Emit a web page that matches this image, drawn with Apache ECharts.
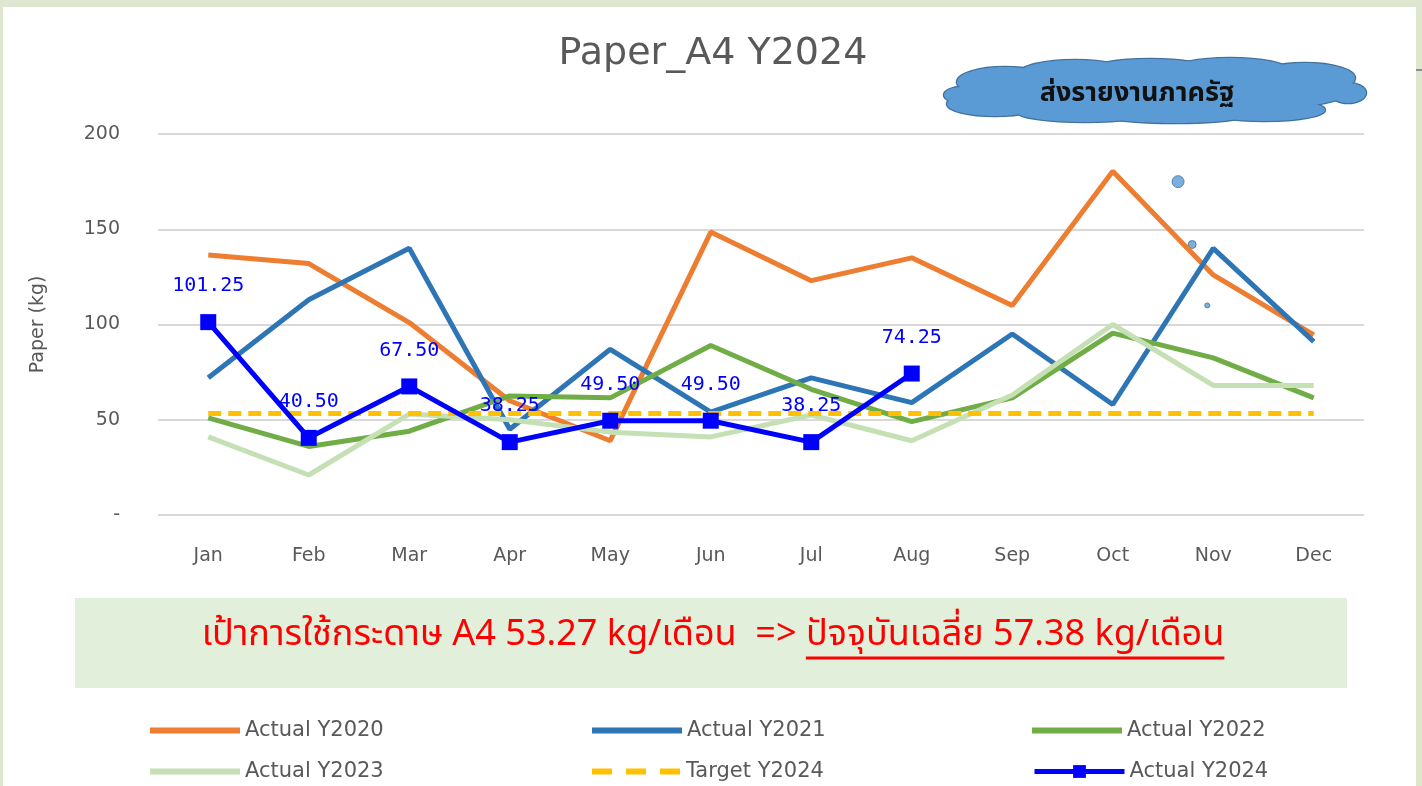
<!DOCTYPE html>
<html>
<head>
<meta charset="utf-8">
<title>Paper_A4 Y2024</title>
<script src="https://cdn.jsdelivr.net/npm/echarts@6/dist/echarts.min.js"></script>
<style>
    html, body { margin: 0; padding: 0; background: #dfe6d0; }
    #main { width: 1422px; height: 786px; }
</style>
</head>
<body>
<div id="main"></div>
<script>
// data
const months = ["Jan", "Feb", "Mar", "Apr", "May", "Jun", "Jul", "Aug", "Sep", "Oct", "Nov", "Dec"];
const actual2020 = [136.5, 132, 101, 60, 39, 148.5, 123, 135, 110, 180.5, 126, 94.5];
const actual2021 = [72, 113, 140, 45, 87, 54, 72, 59, 95, 58, 140, 91];
const actual2022 = [51, 36, 44, 62.5, 61.5, 89, 66, 49, 61.5, 95.5, 82.5, 61.5];
const actual2023 = [41, 21, 53, 50, 43.5, 41, 52.5, 39, 63, 100, 68, 68];
const target2024 = [53.27, 53.27, 53.27, 53.27, 53.27, 53.27, 53.27, 53.27, 53.27, 53.27, 53.27, 53.27];
const actual2024 = [101.25, 40.5, 67.5, 38.25, 49.5, 49.5, 38.25, 74.25];
// stray dots near Oct/Nov (x in month index units, y, size)
const strayDots = [[9.65, 175, 12], [9.79, 142, 8], [9.94, 110, 5]];

const grey = "#595959";
const font = "'DejaVu Sans', 'Noto Sans', sans-serif";
const thaiFont = "Tahoma, 'Noto Sans Thai', 'Noto Sans', 'DejaVu Sans', sans-serif";

const chart = echarts.init(document.getElementById("main"));

// legend: one small legend per item, 3 columns x 2 rows
const legendNames = ["Actual Y2020", "Actual Y2021", "Actual Y2022", "Actual Y2023", "Target Y2024", "Actual Y2024"];
const legendIcons = [
    "rect", "rect", "rect", "rect",
    "path://M0,0h20v6h-20z M34,0h20v6h-20z M68,0h20v6h-20z",
    null
];
const legendCols = [150, 592, 1032];
const legendRows = [720, 761];
const legends = legendNames.map((n, i) => ({
    data: [legendIcons[i] ? { name: n, icon: legendIcons[i] } : { name: n }],
    left: legendCols[i % 3],
    top: legendRows[Math.floor(i / 3)],
    itemWidth: 90,
    itemHeight: legendIcons[i] ? 6 : 16,
    itemGap: 0,
    padding: 0,
    lineStyle: { width: 5 },
    textStyle: { color: grey, fontSize: 21, fontFamily: font }
}));

// banner text split in two parts, the second underlined
const bannerLeft = "เป้าการใช้กระดาษ A4 53.27 kg/เดือน  => ";
const bannerRight = "ปัจจุบันเฉลี่ย 57.38 kg/เดือน";
const bannerFont = "36px " + thaiFont;
const ctx = document.createElement("canvas").getContext("2d");
ctx.font = bannerFont;
const wL = ctx.measureText(bannerLeft).width;
const wR = ctx.measureText(bannerRight).width;
const bx0 = 713 - (wL + wR) / 2;

// cloud lobes (cx, cy, rx, ry)
const lobes = [
    [1156, 92, 192, 23],
    [1005, 82, 48, 15], [1075, 73, 55, 13], [1150, 70, 60, 11], [1230, 70, 58, 12], [1305, 78, 50, 15],
    [995, 104, 48, 12], [1085, 112, 68, 10], [1175, 115, 72, 8], [1265, 110, 60, 11],
    [962, 95, 18, 8], [1348, 93, 18, 10]
];
const cloudStroke = lobes.map(l => ({
    type: "ellipse", z: 10,
    shape: { cx: l[0], cy: l[1], rx: l[2], ry: l[3] },
    style: { fill: "#5b9bd5", stroke: "#41719c", lineWidth: 2.5 }
}));
const cloudFill = lobes.map(l => ({
    type: "ellipse", z: 11,
    shape: { cx: l[0], cy: l[1], rx: l[2], ry: l[3] },
    style: { fill: "#5b9bd5" }
}));

const option = {
    backgroundColor: "#dfe6d0",
    animation: false,
    title: {
        text: "Paper_A4 Y2024",
        left: 708,
        top: 30,
        textAlign: "center",
        textStyle: { color: grey, fontSize: 38, fontWeight: "normal", fontFamily: font }
    },
    legend: legends,
    grid: { left: 158, right: 58, top: 134, bottom: 271 },
    xAxis: [
        {
            type: "category",
            data: months,
            axisLine: { show: false },
            axisTick: { show: false },
            axisLabel: { color: grey, fontSize: 19, fontFamily: font, margin: 32 }
        },
        { type: "value", min: -0.5, max: 11.5, show: false }
    ],
    yAxis: {
        type: "value",
        min: 0,
        max: 200,
        interval: 50,
        name: "Paper (kg)",
        nameLocation: "middle",
        nameGap: 110,
        nameTextStyle: { color: grey, fontSize: 19, fontFamily: font },
        axisLine: { show: false },
        axisTick: { show: false },
        axisLabel: {
            color: grey, fontSize: 19, fontFamily: font, margin: 38,
            formatter: v => (v === 0 ? "-" : String(v))
        },
        splitLine: { lineStyle: { color: "#d9d9d9", width: 2 } }
    },
    series: [
        { name: "Actual Y2020", type: "line", data: actual2020, symbol: "none", color: "#ed7d31", lineStyle: { width: 5 } },
        { name: "Actual Y2021", type: "line", data: actual2021, symbol: "none", color: "#2e75b6", lineStyle: { width: 5 } },
        { name: "Actual Y2022", type: "line", data: actual2022, symbol: "none", color: "#70ad47", lineStyle: { width: 5 } },
        { name: "Actual Y2023", type: "line", data: actual2023, symbol: "none", color: "#c5e0b4", lineStyle: { width: 5 } },
        { name: "Target Y2024", type: "line", data: target2024, symbol: "none", color: "#ffc000", lineStyle: { width: 5, type: [13, 7] } },
        {
            name: "Actual Y2024", type: "line", data: actual2024, symbol: "rect", symbolSize: 16,
            color: "#0000ff", lineStyle: { width: 5 },
            label: {
                show: true, position: "top", distance: 18,
                color: "#0000ff", fontSize: 20, fontFamily: "'DejaVu Sans Mono', monospace",
                formatter: p => p.value.toFixed(2)
            },
            z: 5
        },
        {
            name: "dots", type: "scatter", xAxisIndex: 1,
            data: strayDots.map(d => [d[0], d[1]]),
            symbolSize: (v, p) => strayDots[p.dataIndex][2],
            itemStyle: { color: "#5b9bd5", borderColor: "#41719c", borderWidth: 1 },
            silent: true
        }
    ],
    graphic: [
        { type: "rect", z: -10, shape: { x: 3, y: 7, width: 1413, height: 779 }, style: { fill: "#ffffff" } },
        { type: "rect", z: -9, shape: { x: 1416, y: 69, width: 6, height: 2 }, style: { fill: "#8c8c8c" } },
        { type: "rect", z: -5, shape: { x: 75, y: 598, width: 1272, height: 90 }, style: { fill: "#e2efda" } },
        {
            type: "text", z: 20, x: bx0, y: 638,
            style: { text: bannerLeft, font: bannerFont, fill: "#ff0000", textVerticalAlign: "middle" }
        },
        {
            type: "text", z: 20, x: bx0 + wL, y: 638,
            style: { text: bannerRight, font: bannerFont, fill: "#ff0000", textVerticalAlign: "middle" }
        },
        {
            type: "line", z: 20,
            shape: { x1: bx0 + wL, y1: 658, x2: bx0 + wL + wR, y2: 658 },
            style: { stroke: "#ff0000", lineWidth: 3 }
        },
        ...cloudStroke,
        ...cloudFill,
        {
            type: "text", z: 20, x: 1137, y: 96,
            style: {
                text: "ส่งรายงานภาครัฐ", font: "bold 27px " + thaiFont, fill: "#111111",
                textAlign: "center", textVerticalAlign: "middle"
            }
        }
    ]
};

chart.setOption(option);
</script>
</body>
</html>
